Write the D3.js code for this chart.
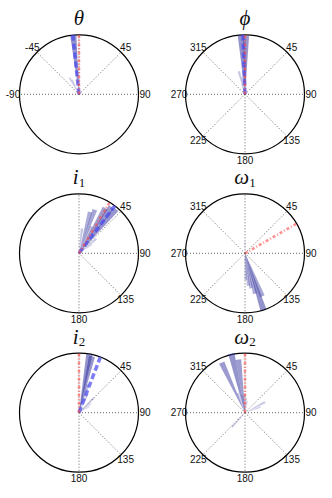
<!DOCTYPE html>
<html lang="en">

<head>
  <meta charset="UTF-8">
  <title>Angle histograms</title>
  <style>
    body { margin: 0; background: #fff; }
    .tick { font-family: "Liberation Sans", sans-serif; font-size: 10px; fill: #111; }
    .title { font-family: "Liberation Serif", serif; font-style: italic; font-size: 21px; fill: #111; }
  </style>
</head>

<body>
  <svg class="svg"></svg>

  <script src="https://cdn.jsdelivr.net/npm/d3@7"></script>
  <script>
    // panel titles
    const titles = ['θ', 'ϕ', 'i', 'ω', 'i', 'ω'];
    const subscripts = ['', '', '1', '1', '2', '2'];

    // angular grids and tick labels
    const gridSigned = [-90, -45, 0, 45, 90];
    const labelSigned = [-90, -45, 45, 90];
    const gridFull = [0, 45, 90, 135, 180, 225, 270, 315];
    const labelFull = [45, 90, 135, 180, 225, 270, 315];
    const gridHalf = [0, 45, 90, 135, 180];
    const labelHalf = [45, 90, 135, 180];

    // histogram bins (deg) and normalised counts
    const thetaBins = [-30, -25, -5.5, 0];
    const thetaCounts = [0.32, 0.27, 1.0, 0.12];
    const phiBins = [-20, -15, -10, -4, 1, 8];
    const phiCounts = [0.18, 0.4, 0.3, 1.0, 0.98, 0.15];
    const i1Bins = [7, 15, 20, 25, 30, 35, 40, 50, 56];
    const i1Counts = [0.42, 0.72, 0.78, 0.5, 0.88, 0.95, 0.97, 0.38, 0.26];
    const omega1Bins = [0, 158, 162, 166, 170, 174, 178, 186];
    const omega1Counts = [0.2, 0.78, 1.0, 0.7, 0.6, 0.55, 0.45, 0.15];
    const i2Bins = [10, 13, 18, 25, 45, 52, 60];
    const i2Counts = [1.0, 0.97, 0.5, 0.35, 0.35, 0.25, 0.2];
    const omega2Bins = [-25, -20, -13, -10, -7, -2, 5, 12, 62, 70, 222, 228];
    const omega2Counts = [0.93, 0.35, 1.02, 0.3, 0.9, 0.32, 0.25, 0.2, 0.38, 0.28, 0.33, 0.18];

    // true value (red) and estimated mean (blue), deg
    const trueAngles = [0, 0, 31, 60, 0, 0];
    const meanAngles = [-6, -2, 37, null, 21, null];

    const binWidth = 6;

    const panels = [
      { bins: thetaBins, counts: thetaCounts, grid: gridSigned, labels: labelSigned },
      { bins: phiBins, counts: phiCounts, grid: gridFull, labels: labelFull },
      { bins: i1Bins, counts: i1Counts, grid: gridHalf, labels: labelHalf },
      { bins: omega1Bins, counts: omega1Counts, grid: gridFull, labels: labelFull },
      { bins: i2Bins, counts: i2Counts, grid: gridHalf, labels: labelHalf },
      { bins: omega2Bins, counts: omega2Counts, grid: gridFull, labels: labelFull }
    ];

    const w = 332;
    const h = 498;
    const R = 59.5;
    const colX = [79, 245];
    const rowY = [94.3, 253.3, 412.7];

    const rScale = d3.scaleLinear().domain([0, 1]).range([0, R]);
    const aScale = d3.scaleLinear().domain([0, 360]).range([0, 2 * Math.PI]);
    const alpha = d3.scaleLinear().domain([0, 1]).range([0.1, 0.5]).clamp(true);

    const arc = d3.arc()
      .innerRadius(0)
      .outerRadius((d) => rScale(d.v))
      .startAngle((d) => aScale(d.a - binWidth / 2))
      .endAngle((d) => aScale(d.a + binWidth / 2));

    const svg = d3.select('.svg')
      .attr('width', w)
      .attr('height', h);

    panels.forEach((p, i) => {
      const cx = colX[i % 2];
      const cy = rowY[Math.floor(i / 2)];
      const g = svg.append('g').attr('transform', 'translate(' + cx + ',' + cy + ')');

      g.append('circle')
        .attr('r', R)
        .attr('fill', 'none')
        .attr('stroke', '#000')
        .attr('stroke-width', 1.2);

      g.selectAll('.grid')
        .data(p.grid)
        .enter()
        .append('line')
        .attr('class', 'grid')
        .attr('x2', (d) => d3.pointRadial(aScale(d), R)[0])
        .attr('y2', (d) => d3.pointRadial(aScale(d), R)[1])
        .attr('stroke', '#555')
        .attr('stroke-width', 0.9)
        .attr('stroke-dasharray', '1,2');

      g.selectAll('.bar')
        .data(p.bins.map((a, k) => ({ a: a, v: p.counts[k] })))
        .enter()
        .append('path')
        .attr('class', 'bar')
        .attr('d', arc)
        .attr('fill', '#2a2a9a')
        .attr('fill-opacity', (d) => alpha(d.v));

      if (meanAngles[i] !== null) {
        const m = d3.pointRadial(aScale(meanAngles[i]), R);
        g.append('line')
          .attr('x2', m[0])
          .attr('y2', m[1])
          .attr('stroke', '#4848f0')
          .attr('stroke-opacity', 0.7)
          .attr('stroke-width', 3.5)
          .attr('stroke-dasharray', '6,3');
      }

      const t = d3.pointRadial(aScale(trueAngles[i]), R);
      g.append('line')
        .attr('x2', t[0])
        .attr('y2', t[1])
        .attr('stroke', '#ff4848')
        .attr('stroke-opacity', 0.6)
        .attr('stroke-width', 2.5)
        .attr('stroke-dasharray', '3,2,1,2');

      g.selectAll('.tick')
        .data(p.labels)
        .enter()
        .append('text')
        .attr('class', 'tick')
        .attr('x', (d) => d3.pointRadial(aScale(d), R + 6.5)[0])
        .attr('y', (d) => d3.pointRadial(aScale(d), R + 6.5)[1])
        .attr('text-anchor', 'middle')
        .attr('dominant-baseline', 'central')
        .text((d) => d);

      const title = g.append('text')
        .attr('class', 'title')
        .attr('x', 0)
        .attr('y', -R - 9.5)
        .attr('text-anchor', 'middle')
        .text(titles[i]);
      if (subscripts[i]) {
        title.append('tspan')
          .attr('dy', 2.5)
          .attr('font-size', 13)
          .attr('font-style', 'normal')
          .text(subscripts[i]);
      }
    });
  </script>
</body>

</html>
